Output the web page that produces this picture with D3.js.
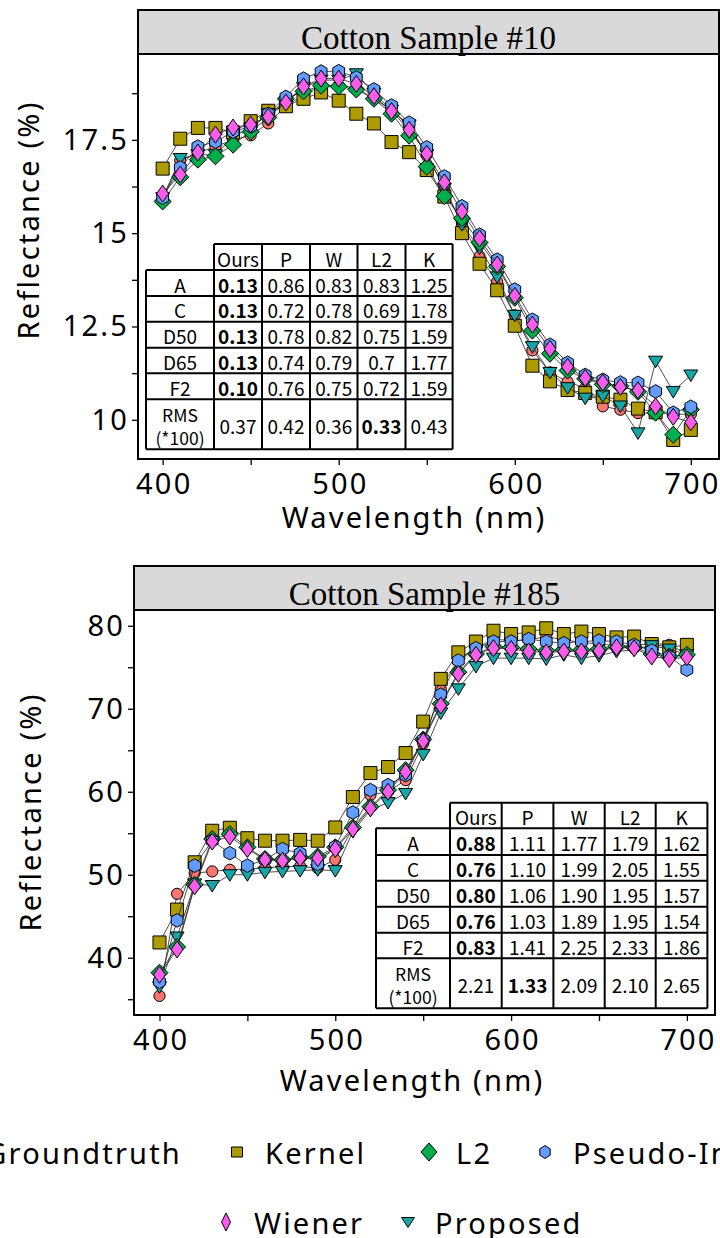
<!DOCTYPE html>
<html><head><meta charset="utf-8">
<script src="https://cdn.jsdelivr.net/npm/d3@7"></script>
<style>body{margin:0;background:#fff;overflow:hidden} svg{display:block}</style>
</head><body>
<svg id="c" width="720" height="1238"></svg>
<script>
// ---------------- DATA ----------------
const wavelengths = [400,410,420,430,440,450,460,470,480,490,500,510,520,530,540,550,560,570,580,590,600,610,620,630,640,650,660,670,680,690,700];
const seriesNames = ["Groundtruth","Kernel","L2","Pseudo-Inverse","Wiener","Proposed"];
const seriesColors = ["#F8766D","#AE9B00","#00AD4D","#619CFF","#F75CEB","#17A6A8"];

// Cotton Sample #10
const s10Groundtruth = [15.9,16.95,17.15,17.32,17.5,17.62,17.94,18.4,18.7,18.95,18.95,18.9,18.6,18.3,17.85,17.1,16.22,15.25,14.38,13.7,12.8,11.86,11.27,11.02,10.85,10.36,10.27,10.18,10.18,10.15,10.15];
const s10Kernel = [16.73,17.53,17.82,17.82,17.7,18.0,18.28,18.4,18.6,18.77,18.55,18.2,17.94,17.44,17.17,16.69,15.98,15.0,14.18,13.47,12.52,11.45,11.03,10.8,10.72,10.62,10.54,10.3,10.2,9.46,9.73];
const s10L2 = [15.85,16.5,16.97,17.06,17.37,17.72,18.1,18.6,18.8,18.95,18.93,18.85,18.6,18.2,17.61,16.78,15.99,15.4,14.75,14.11,13.27,12.39,11.77,11.32,11.1,10.95,10.9,10.75,10.19,9.6,10.27];
const s10Pseudo = [15.95,16.76,17.32,17.45,17.72,17.86,18.2,18.65,19.14,19.33,19.34,19.17,18.85,18.42,17.96,17.3,16.52,15.72,14.96,14.29,13.49,12.68,12.01,11.53,11.2,11.07,11.0,10.99,10.76,10.19,10.35];
const s10Wiener = [16.06,16.57,17.16,17.64,17.83,17.91,18.12,18.5,18.93,19.14,19.14,19.0,18.67,18.27,17.77,17.13,16.36,15.58,14.86,14.16,13.32,12.55,11.9,11.42,11.12,11.0,10.88,10.79,10.36,10.08,9.93];
const s10Proposed = [15.95,17.0,17.1,17.1,17.6,17.8,18.2,18.5,18.9,19.1,19.1,19.27,18.75,18.3,17.9,17.1,16.2,15.23,14.6,13.83,12.8,11.96,11.27,10.86,10.58,10.64,10.37,9.65,11.57,10.76,11.2];

// Cotton Sample #185
const s185Groundtruth = [35.4,47.7,50.2,50.4,50.6,50.7,50.8,51.0,51.0,50.8,51.8,55.6,59.6,60.0,61.4,65.8,72.4,76.0,77.3,78.4,78.2,78.3,78.7,78.3,78.0,77.8,77.6,77.6,77.9,77.7,76.6];
const s185Kernel = [41.84,45.8,51.5,55.3,55.66,54.4,54.1,54.1,54.2,54.1,55.7,59.36,62.25,62.98,64.66,68.45,73.6,76.8,78.1,79.4,79.0,79.2,79.7,79.0,79.3,79.0,78.6,78.7,77.8,77.4,77.7];
const s185L2 = [38.2,41.3,48.8,54.3,54.9,53.3,51.9,51.8,52.1,52.2,53.3,55.7,58.2,60.2,62.6,66.3,70.6,74.4,76.6,77.5,77.4,77.2,77.0,77.1,77.1,77.2,77.5,77.4,76.6,76.3,76.5];
const s185Pseudo = [37.1,44.5,51.1,54.1,52.6,51.1,51.8,53.1,52.6,51.3,53.4,57.5,60.2,60.8,62.0,66.3,71.7,75.8,77.3,78.1,78.1,78.4,78.1,77.9,78.1,78.2,78.1,77.7,77.0,76.3,74.7];
const s185Wiener = [37.95,41.0,48.6,54.0,54.6,53.1,51.8,51.7,52.0,52.0,53.1,55.5,58.0,60.0,62.4,66.1,70.4,74.2,76.5,77.3,77.2,76.9,76.8,76.9,76.9,77.0,77.4,77.3,76.3,76.0,76.2];
const s185Proposed = [36.5,42.5,48.9,48.7,50.0,50.0,50.3,50.4,50.5,50.6,50.5,55.2,57.8,58.7,59.8,64.5,69.5,72.4,75.1,76.1,76.1,76.1,76.0,76.5,76.1,76.4,76.9,77.1,77.6,77.2,76.5];

const xTickValues = [400,500,600,700];
const xMinorTicks = [450,550,650];
const yTicks10 = [10,12.5,15,17.5];
const yTickLabels10 = ["10","12.5","15","17.5"];
const yMinor10 = [11.25,13.75,16.25,18.75];
const yTicks185 = [40,50,60,70,80];
const yTickLabels185 = ["40","50","60","70","80"];
const yMinor185 = [35,45,55,65,75];

const tableColumns = ["Ours","P","W","L2","K"];
const tableRows = ["A","C","D50","D65","F2","RMS|(*100)"];
const table10 = [
  ["0.13","0.86","0.83","0.83","1.25"],
  ["0.13","0.72","0.78","0.69","1.78"],
  ["0.13","0.78","0.82","0.75","1.59"],
  ["0.13","0.74","0.79","0.7","1.77"],
  ["0.10","0.76","0.75","0.72","1.59"],
  ["0.37","0.42","0.36","0.33","0.43"]
];
const table185 = [
  ["0.88","1.11","1.77","1.79","1.62"],
  ["0.76","1.10","1.99","2.05","1.55"],
  ["0.80","1.06","1.90","1.95","1.57"],
  ["0.76","1.03","1.89","1.95","1.54"],
  ["0.83","1.41","2.25","2.33","1.86"],
  ["2.21","1.33","2.09","2.10","2.65"]
];

// ---------------- DRAWING ----------------
const SANS = "'Noto Sans', 'Open Sans', sans-serif";
const TFONT = "'Noto Sans CJK SC', 'Noto Sans', sans-serif";
const FS = 29, LS = 2.2;
const svg = d3.select("#c");

const markers = {
  "Groundtruth": () => d3.symbol(d3.symbolCircle, Math.PI*5.6*5.6)(),
  "Kernel": () => "M-6.5,-6.5H6.5V6.5H-6.5Z",
  "L2": () => "M0,-8.5L8.5,0L0,8.5L-8.5,0Z",
  "Pseudo-Inverse": () => {
    const r = 6.8; let p = "";
    for (let i=0;i<6;i++){ const a = -Math.PI/2 + i*Math.PI/3; p += (i?"L":"M") + (r*Math.cos(a)).toFixed(2)+","+(r*Math.sin(a)).toFixed(2);} return p+"Z";
  },
  "Wiener": () => "M0,-8.5L6,0L0,8.5L-6,0Z",
  "Proposed": () => "M-7,-5L7,-5L0,6.5Z"
};
const drawOrder = ["Groundtruth","Kernel","Proposed","L2","Pseudo-Inverse","Wiener"];

function drawPanel(cfg) {
  const g = svg.append("g");
  const x = d3.scaleLinear().domain(cfg.xDomain).range([cfg.left, cfg.right]);
  const y = d3.scaleLinear().domain(cfg.yDomain).range([cfg.bottom, cfg.plotTop]);

  // title strip
  g.append("rect").attr("x", cfg.left).attr("y", cfg.top).attr("width", cfg.right-cfg.left).attr("height", cfg.plotTop-cfg.top)
    .attr("fill","#d9d9d9").attr("stroke","#000").attr("stroke-width",2);
  g.append("text").attr("x",(cfg.left+cfg.right)/2).attr("y",cfg.top+39).attr("text-anchor","middle")
    .attr("font-family","'Liberation Serif','Times New Roman',serif").attr("font-size",33).text(cfg.title);

  // axes
  const yAxis = d3.axisLeft(y).tickValues(cfg.yTicks).tickFormat((d,i)=>cfg.yLabels[i]).tickSize(6).tickPadding(3);
  const ya = g.append("g").attr("transform",`translate(${cfg.left},0)`).call(yAxis);
  const yMin = g.append("g").attr("transform",`translate(${cfg.left},0)`).call(d3.axisLeft(y).tickValues(cfg.yMinor).tickFormat("").tickSize(6));
  const xAxis = d3.axisBottom(x).tickValues(xTickValues).tickFormat(d3.format("d")).tickSize(6).tickPadding(3);
  const xa = g.append("g").attr("transform",`translate(0,${cfg.bottom})`).call(xAxis);
  const xMin = g.append("g").attr("transform",`translate(0,${cfg.bottom})`).call(d3.axisBottom(x).tickValues(xMinorTicks).tickFormat("").tickSize(6));
  [ya,yMin,xa,xMin].forEach(a=>{a.select(".domain").remove(); a.selectAll("line").attr("stroke","#000").attr("stroke-width",1.3);});
  [ya,xa].forEach(a=>a.selectAll("text").attr("font-family",SANS).attr("font-size",FS).attr("letter-spacing",LS).attr("fill","#000"));
  xa.selectAll("text").attr("dy","0.9em").attr("dx", LS/2);

  g.append("text").attr("transform",`translate(${cfg.yLabelX},${cfg.yLabelY}) rotate(-90)`)
    .attr("text-anchor","middle").attr("font-family",SANS).attr("font-size",FS).attr("letter-spacing",LS).text("Reflectance (%)");
  g.append("text").attr("x",cfg.xLabelX).attr("y",cfg.xLabelY).attr("text-anchor","middle")
    .attr("font-family",SANS).attr("font-size",FS).attr("letter-spacing",LS).text("Wavelength (nm)");

  // series
  const clipId = "clip"+cfg.id;
  svg.append("clipPath").attr("id",clipId).append("rect").attr("x",cfg.left).attr("y",cfg.plotTop).attr("width",cfg.right-cfg.left).attr("height",cfg.bottom-cfg.plotTop);
  const sg = g.append("g").attr("clip-path",`url(#${clipId})`);
  const line = d3.line().x((d,i)=>x(wavelengths[i])).y(d=>y(d));
  drawOrder.forEach(name=>{
    const idx = seriesNames.indexOf(name);
    const vals = cfg.series[idx];
    sg.append("path").attr("d",line(vals)).attr("fill","none").attr("stroke","#222").attr("stroke-width",0.8);
    sg.selectAll(null).data(vals).enter().append("path")
      .attr("transform",(d,i)=>`translate(${x(wavelengths[i])},${y(d)})`)
      .attr("d",markers[name]()).attr("fill",seriesColors[idx]).attr("stroke","#000").attr("stroke-width",1);
  });

  // table
  const tg = g.append("g");
  const cx = cfg.tableCols, ry = cfg.tableRowsY;
  tg.append("rect").attr("x",cx[1]).attr("y",ry[0]).attr("width",cx[6]-cx[1]).attr("height",ry[1]-ry[0]).attr("fill","#fff");
  tg.append("rect").attr("x",cx[0]).attr("y",ry[1]).attr("width",cx[6]-cx[0]).attr("height",ry[7]-ry[1]).attr("fill","#fff");
  const L = (x1,y1,x2,y2)=>tg.append("line").attr("x1",x1).attr("y1",y1).attr("x2",x2).attr("y2",y2).attr("stroke","#000").attr("stroke-width",2);
  L(cx[1],ry[0],cx[6],ry[0]);
  for (let r=1;r<=7;r++) L(cx[0],ry[r],cx[6],ry[r]);
  L(cx[0],ry[1],cx[0],ry[7]);
  for (let c=1;c<=6;c++) L(cx[c],ry[0],cx[c],ry[7]);
  const T = (xx,yy,t,bold,fs)=>tg.append("text").attr("x",xx).attr("y",yy).attr("text-anchor","middle").attr("dominant-baseline","central")
    .attr("font-family",TFONT).attr("font-size",fs||19).attr("font-weight",bold?"bold":"normal").attr("fill","#000").text(t);
  tableColumns.forEach((c,i)=>T((cx[i+1]+cx[i+2])/2,(ry[0]+ry[1])/2+1,c,false));
  tableRows.forEach((rname,r)=>{
    const yc = (ry[r+1]+ry[r+2])/2+1;
    const parts = rname.split("|");
    if (parts.length===1) T((cx[0]+cx[1])/2,yc,parts[0],false);
    else { T((cx[0]+cx[1])/2,yc-11,parts[0],false,17.5); T((cx[0]+cx[1])/2,yc+12,parts[1],false,17.5); }
    const row = cfg.table[r];
    const mn = d3.min(row, v=>+v);
    row.forEach((v,c)=>T((cx[c+1]+cx[c+2])/2,yc,v,+v===mn));
  });

  // frame
  g.append("rect").attr("x",cfg.left).attr("y",cfg.plotTop).attr("width",cfg.right-cfg.left).attr("height",cfg.bottom-cfg.plotTop)
    .attr("fill","none").attr("stroke","#000").attr("stroke-width",2);
}

drawPanel({
  id:"10", title:"Cotton Sample #10",
  left:138, right:719, top:10, plotTop:54, bottom:459,
  xDomain:[386,716], yDomain:[8.95,19.8],
  yTicks:yTicks10, yLabels:yTickLabels10, yMinor:yMinor10,
  yLabelX:39, yLabelY:220, xLabelX:414, xLabelY:528,
  series:[s10Groundtruth,s10Kernel,s10L2,s10Pseudo,s10Wiener,s10Proposed],
  table:table10,
  tableCols:[146,214,262,310,357.5,405.5,452.6],
  tableRowsY:[244,270,296,321.7,347.7,373.3,399.3,449.3]
});
drawPanel({
  id:"185", title:"Cotton Sample #185",
  left:134, right:715, top:566, plotTop:610, bottom:1015,
  xDomain:[385.5,716], yDomain:[33.1,81.9],
  yTicks:yTicks185, yLabels:yTickLabels185, yMinor:yMinor185,
  yLabelX:41, yLabelY:812, xLabelX:412, xLabelY:1091,
  series:[s185Groundtruth,s185Kernel,s185L2,s185Pseudo,s185Wiener,s185Proposed],
  table:table185,
  tableCols:[376,450,501.7,553.4,604.7,655.7,707.4],
  tableRowsY:[802.7,828.3,855,880.7,906.7,932.7,958.3,1008.3]
});

// legend
const legendLayout = [
  {name:"Groundtruth", mx:-22, tx:182, anchor:"end", y:1152},
  {name:"Kernel", mx:237, tx:265, anchor:"start", y:1152},
  {name:"L2", mx:429, tx:456, anchor:"start", y:1152},
  {name:"Pseudo-Inverse", mx:545, tx:573, anchor:"start", y:1152},
  {name:"Wiener", mx:226, tx:254, anchor:"start", y:1222},
  {name:"Proposed", mx:408, tx:435, anchor:"start", y:1222}
];
const legendMarkers = {
  "Groundtruth": "M5,0A5,5 0 1,1 -5,0A5,5 0 1,1 5,0Z",
  "Kernel": "M-5.5,-5H5.5V5H-5.5Z",
  "L2": "M0,-9L8,0L0,9L-8,0Z",
  "Pseudo-Inverse": "M0,-6.5L5.2,-3.2L5.2,3.2L0,6.5L-5.2,3.2L-5.2,-3.2Z",
  "Wiener": "M0,-9L4.5,0L0,9L-4.5,0Z",
  "Proposed": "M-6.5,-4.5L6.5,-4.5L0,5.5Z"
};
const lg = svg.append("g");
legendLayout.forEach(l=>{
  const idx = seriesNames.indexOf(l.name);
  lg.append("path").attr("transform",`translate(${l.mx},${l.y})`).attr("d",legendMarkers[l.name])
    .attr("fill",seriesColors[idx]).attr("stroke","#000").attr("stroke-width",1);
  lg.append("text").attr("x",l.tx).attr("y",l.y).attr("dominant-baseline","central").attr("text-anchor",l.anchor)
    .attr("font-family",SANS).attr("font-size",FS).attr("letter-spacing",LS).text(l.name);
});
</script>
</body></html>
